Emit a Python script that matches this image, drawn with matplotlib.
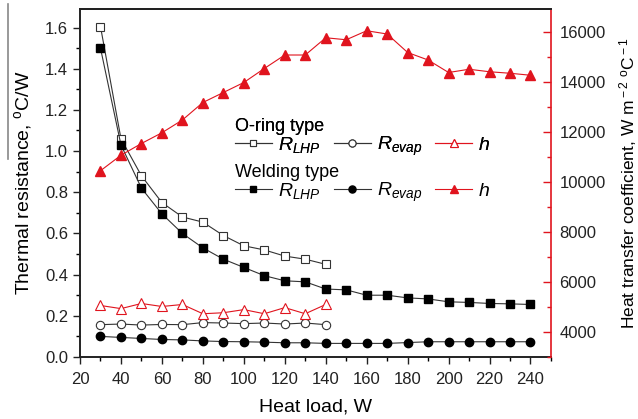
import numpy as np
import matplotlib
matplotlib.use("Agg")
import matplotlib.pyplot as plt
from matplotlib.lines import Line2D
from matplotlib.ticker import MultipleLocator

plt.rcParams['font.family'] = ['Liberation Sans', 'DejaVu Sans']
plt.rcParams['mathtext.fontset'] = 'custom'
plt.rcParams['mathtext.rm'] = 'Liberation Sans'
plt.rcParams['mathtext.it'] = 'Liberation Sans:italic'

# heat load, W
q_oring = [30, 40, 50, 60, 70, 80, 90, 100, 110, 120, 130, 140]
q_weld = [30, 40, 50, 60, 70, 80, 90, 100, 110, 120, 130, 140, 150,
          160, 170, 180, 190, 200, 210, 220, 230, 240]

# thermal resistance, C/W
r_lhp_oring = [1.605, 1.06, 0.88, 0.75, 0.68, 0.655, 0.59, 0.54, 0.52, 0.49, 0.475, 0.45]
r_evap_oring = [0.157, 0.16, 0.155, 0.158, 0.157, 0.167, 0.165, 0.162, 0.165, 0.16, 0.165, 0.157]
r_lhp_weld = [1.50, 1.03, 0.82, 0.695, 0.60, 0.53, 0.475, 0.435, 0.395, 0.37, 0.365, 0.33,
              0.326, 0.30, 0.30, 0.287, 0.282, 0.268, 0.265, 0.26, 0.258, 0.255]
r_evap_weld = [0.10, 0.095, 0.09, 0.085, 0.083, 0.078, 0.075, 0.074, 0.072, 0.069, 0.069, 0.066,
               0.066, 0.066, 0.066, 0.070, 0.074, 0.074, 0.074, 0.074, 0.074, 0.074]

# heat transfer coefficient, W/m2C
h_oring = [5060, 4935, 5140, 5020, 5100, 4730, 4770, 4895, 4730, 4975, 4730, 5100]
h_weld = [10450, 11070, 11540, 11970, 12480, 13180, 13580, 13980, 14540, 15080, 15080, 15770,
          15690, 16050, 15920, 15180, 14880, 14380, 14510, 14410, 14350, 14270]

red = '#e0141e'

fig = plt.figure(figsize=(6.38, 4.19), dpi=100)
ax = fig.add_axes([0.1254, 0.148, 0.7382, 0.8305])
ax2 = ax.twinx()

l1, = ax.plot(q_oring, r_lhp_oring, '-s', color='#333333', lw=0.8, ms=5.5,
              mfc='white', mec='#333333', mew=0.8)
l2, = ax.plot(q_oring, r_evap_oring, '-o', color='#333333', lw=0.8, ms=6,
              mfc='white', mec='#333333', mew=0.8)
l4, = ax.plot(q_weld, r_lhp_weld, '-s', color='#333333', lw=0.8, ms=5.5,
              mfc='black', mec='black')
l5, = ax.plot(q_weld, r_evap_weld, '-o', color='#333333', lw=0.8, ms=6,
              mfc='black', mec='black')
l3, = ax2.plot(q_oring, h_oring, '-^', color=red, lw=0.8, ms=7,
               mfc='white', mec=red, mew=0.8)
l6, = ax2.plot(q_weld, h_weld, '-^', color=red, lw=0.8, ms=7,
               mfc=red, mec=red)

ax.set_xlim(20, 250)
ax.set_ylim(0, 1.69)
ax2.set_ylim(3000, 16920)

ax.xaxis.set_major_locator(MultipleLocator(20))
ax.xaxis.set_minor_locator(MultipleLocator(10))
ax.yaxis.set_minor_locator(MultipleLocator(0.1))
ax2.yaxis.set_minor_locator(MultipleLocator(1000))
ax.set_yticks(np.arange(0, 1.61, 0.2))
ax.set_yticklabels(['%.1f' % v for v in np.arange(0, 1.61, 0.2)])
ax2.set_yticks(np.arange(4000, 16001, 2000))

ax.tick_params(axis='both', which='major', direction='out', length=5, width=1,
               labelsize=12, colors='#222222')
ax.tick_params(axis='both', which='minor', direction='out', length=3, width=1)
ax.tick_params(axis='x', pad=6)
ax2.tick_params(axis='y', which='major', direction='in', length=6, width=1,
                color=red, labelcolor='#222222', labelsize=12, pad=6)
ax2.tick_params(axis='y', which='minor', direction='in', length=3, width=1, color=red)

for s in ['left', 'bottom', 'top']:
    ax.spines[s].set_linewidth(1.4)
    ax.spines[s].set_color('#222222')
ax2.spines['right'].set_color(red)
ax2.spines['right'].set_linewidth(1.2)
ax2.spines['top'].set_linewidth(1.4)
ax2.spines['top'].set_color('#222222')
ax.spines['right'].set_visible(False)
ax2.spines['left'].set_visible(False)
ax2.spines['bottom'].set_visible(False)

ax.set_xlabel('Heat load, W', fontsize=14, labelpad=8)
ax.set_ylabel(r'Thermal resistance, $^{\rm o}$C/W', fontsize=14, labelpad=8)
ax2.set_ylabel(r'Heat transfer coefficient, W m$^{\rm -2}$ $^{\rm o}$C$^{\rm -1}$',
               fontsize=12.5, labelpad=8)

lab = [r'$R_{LHP}$', r'$R_{evap}$', r'$h$']
kw = dict(ncol=3, frameon=False, fontsize=14, title_fontsize=13,
          alignment='left', loc='upper left', handlelength=1.9,
          columnspacing=0.7, handletextpad=0.3, borderpad=0,
          labelspacing=0, markerscale=0.85)
leg1 = fig.legend([l1, l2, l3], lab, title='O-ring type',
                  bbox_to_anchor=(0.353, 0.742), **kw)
fig.legend([l4, l5, l6], lab, title='Welding type',
           bbox_to_anchor=(0.353, 0.632), **kw)
fig.add_artist(leg1)

fig.add_artist(Line2D([0.013, 0.013], [0.62, 0.99], color='#888888', lw=1.2))

fig.savefig('out.png', dpi=100)
